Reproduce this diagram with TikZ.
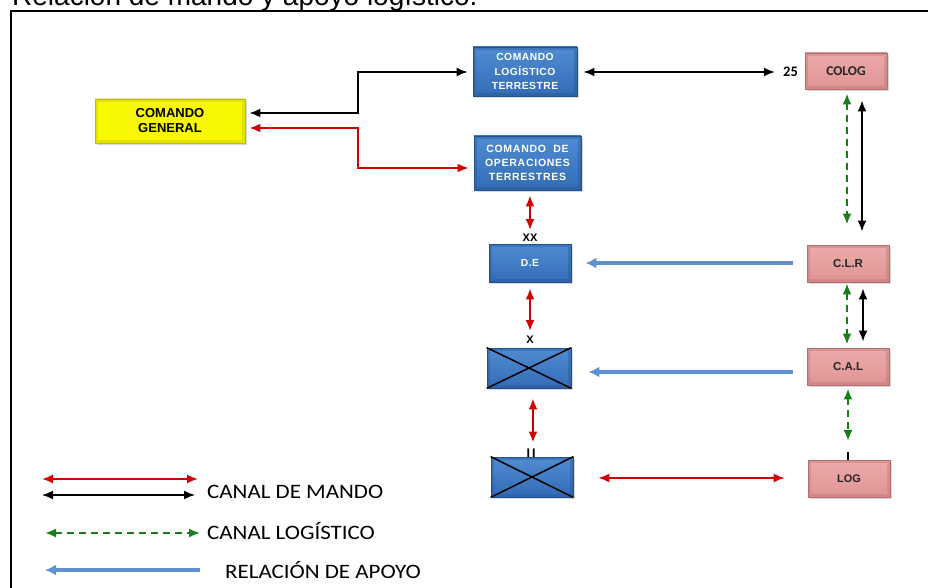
\documentclass[tikz,border=0pt]{standalone}
\usepackage{fontspec}
\setmainfont{Liberation Sans}
\newfontfamily\calib{Carlito}
\usetikzlibrary{arrows.meta,shadows}
\definecolor{bbtop}{RGB}{80,140,210}
\definecolor{bbbot}{RGB}{50,108,182}
\definecolor{bbedge}{RGB}{35,80,145}
\definecolor{pktop}{RGB}{236,170,170}
\definecolor{pkbot}{RGB}{224,148,148}
\definecolor{pkedge}{RGB}{180,110,110}
\definecolor{ylw}{RGB}{248,248,0}
\definecolor{ylwedge}{RGB}{190,190,0}
\definecolor{redln}{RGB}{208,0,0}
\definecolor{grnln}{RGB}{25,125,25}
\definecolor{blueln}{RGB}{95,145,210}
\tikzset{
  shd/.style={drop shadow={shadow xshift=1.5pt,shadow yshift=-2pt,opacity=0.3}},
  bevel/.style={path picture={\draw[#1, opacity=0.35, line width=6pt]
     (path picture bounding box.south west) rectangle (path picture bounding box.north east);}},
  bluebox/.style={rectangle, top color=bbtop, bottom color=bbbot, draw=bbedge, line width=0.8pt,
    bevel=bbedge, text=white, font=\bfseries\fontsize{10.3}{14.5}\selectfont\addfontfeature{LetterSpace=5},
    align=center, inner sep=0pt, shd},
  pinkbox/.style={rectangle, top color=pktop, bottom color=pkbot, draw=pkedge, line width=0.8pt,
    bevel=pkedge, text=black!85, font=\bfseries\fontsize{11.5}{13}\selectfont, align=center, inner sep=0pt, shd,
    minimum width=82pt, minimum height=37pt},
  ylwbox/.style={rectangle, fill=ylw, draw=ylwedge, line width=0.8pt, bevel=ylwedge, text=black,
    font=\bfseries\fontsize{13}{15}\selectfont, align=center, inner sep=0pt, shd},
  lbl/.style={font=\bfseries\fontsize{11}{12}\selectfont, inner sep=0pt},
  tipA/.tip={Latex[length=11pt,width=9pt]},
  cmdred/.style={draw=redln, line width=2pt, tipA-tipA},
  cmdblk/.style={draw=black, line width=1.9pt, tipA-tipA},
  logis/.style={draw=grnln, line width=2.2pt, dash pattern=on 7pt off 5pt, tipA-tipA},
  apoyo/.style={draw=blueln, line width=3.4pt, {Latex[length=11pt,width=11pt]}-},
  legtext/.style={font=\calib\fontsize{20.5}{24}\selectfont, anchor=west, inner sep=0pt},
}
\begin{document}
\begin{tikzpicture}[x=1pt,y=-1pt]
\useasboundingbox (0,0) rectangle (928,588);
\clip (0,0) rectangle (928,588);
% title (cut off at the top) and frame
\node[anchor=base west, inner sep=0pt, font=\fontsize{28}{32}\selectfont] (title) at (12,6) {Relación de mando y apoyo logístico.};
\draw[line width=1.4pt] (11,590) -- (11,11) -- (930,11);

% nodes
\node[ylwbox, minimum width=150pt, minimum height=44pt] (CG) at (170,121) {COMANDO\\GENERAL};
\node[bluebox, minimum width=104pt, minimum height=49pt] (CLT) at (525,71.5) {COMANDO\\LOGÍSTICO\\TERRESTRE};
\node[bluebox, minimum width=107pt, minimum height=54pt, font=\bfseries\fontsize{10.5}{14}\selectfont\addfontfeature{LetterSpace=7}] (COT) at (527.5,163) {COMANDO\ \ DE\\OPERACIONES\\TERRESTRES};
\node[bluebox, minimum width=82pt, minimum height=38pt] (DE) at (530,263) {D.E};
\node[bluebox, minimum width=84pt, minimum height=40pt] (BX) at (529,368) {};
\node[bluebox, minimum width=82pt, minimum height=40pt] (BII) at (532,477) {};
\draw[line width=1.5pt] (BX.north west) -- (BX.south east) (BX.south west) -- (BX.north east);
\draw[line width=1.5pt] (BII.north west) -- (BII.south east) (BII.south west) -- (BII.north east);

\node[pinkbox, minimum height=36pt, font=\calib\bfseries\fontsize{13.5}{14}\selectfont] (COLOG) at (846,71) {COLOG};
\node[pinkbox] (CLR) at (848,263.5) {C.L.R};
\node[pinkbox] (CAL) at (848,366.5) {C.A.L};
\node[pinkbox, font=\bfseries\fontsize{11}{12}\selectfont] (LOG) at (849,478.5) {LOG};

\node[lbl, font=\calib\bfseries\fontsize{14.5}{15}\selectfont] (n25) at (790.5,72) {25};
\node[lbl] (xx) at (530,238) {XX};
\node[lbl] (x) at (530,340) {X};
\node[lbl, font=\bfseries\fontsize{12.5}{12}\selectfont] (ii) at (531,453) {I\hspace{2pt}I};

% command channels
\draw[cmdblk, shorten <=4pt, shorten >=5pt] (CG.east |- 0,113) -| (358,72) -- (CLT.west |- 0,72);
\draw[cmdred, shorten <=4pt, shorten >=5pt] (CG.east |- 0,128) -| (358,168) -- (COT.west |- 0,168);
\draw[cmdblk, shorten <=6pt, shorten >=8pt] (CLT.east |- 0,72) -- (n25.west);
\draw[cmdred, shorten <=5pt, shorten >=4pt] (COT.south -| 530,0) -- (xx.north);
\draw[cmdred, shorten <=6pt, shorten >=5pt] (DE.south) -- (x.north);
\draw[cmdred, shorten <=10pt, shorten >=6pt] (BX.south -| 533,0) -- (ii.north -| 533,0);
\draw[cmdred, line width=1.8pt, shorten <=25pt, shorten >=23pt] (BII.east |- 0,478) -- (LOG.west |- 0,478);
\draw[cmdblk, shorten <=11pt, shorten >=13pt] (COLOG.south -| 862,0) -- (CLR.north -| 862,0);
\draw[cmdblk, shorten <=6pt, shorten >=6pt] (CLR.south -| 863,0) -- (CAL.north -| 863,0);

% logistic channels
\draw[logis, shorten <=4pt, shorten >=20pt] (COLOG.south -| 847,0) -- (CLR.north -| 847,0);
\draw[logis, shorten <=1pt, shorten >=3pt] (CLR.south -| 847,0) -- (CAL.north -| 847,0);
\coordinate (tick) at (848,452);
\draw[logis, shorten <=3pt, shorten >=11pt] (CAL.south -| 848,0) -- (tick);
\draw[line width=1.8pt] (tick) -- (LOG.north -| tick);

% support relations
\draw[apoyo, shorten <=14pt, shorten >=14pt] (DE.east) -- (CLR.west |- DE.east);
\draw[apoyo, shorten <=17pt, shorten >=14pt] (BX.east |- 0,372) -- (CAL.west |- 0,372);

% legend
\coordinate (l1a) at (42,479); \coordinate (l1b) at (198,479);
\coordinate (l2a) at (42,495); \coordinate (l2b) at (195,495);
\coordinate (l3a) at (45,533); \coordinate (l3b) at (200,533);
\coordinate (l4a) at (45,570); \coordinate (l4b) at (200,570);
\draw[cmdred, line width=1.8pt] (l1a) -- (l1b);
\draw[cmdblk, line width=1.6pt] (l2a) -- (l2b);
\draw[logis, line width=2pt] (l3a) -- (l3b);
\draw[apoyo] (l4a) -- (l4b);
\node[legtext] (t1) at (207,492) {\scalebox{1.12}[1]{CANAL DE MANDO}};
\node[legtext] (t2) at (207,531) {\scalebox{1.12}[1]{CANAL LOGÍSTICO}};
\node[legtext] (t3) at (225,570) {\scalebox{1.12}[1]{RELACIÓN DE APOYO}};
\end{tikzpicture}
\end{document}
